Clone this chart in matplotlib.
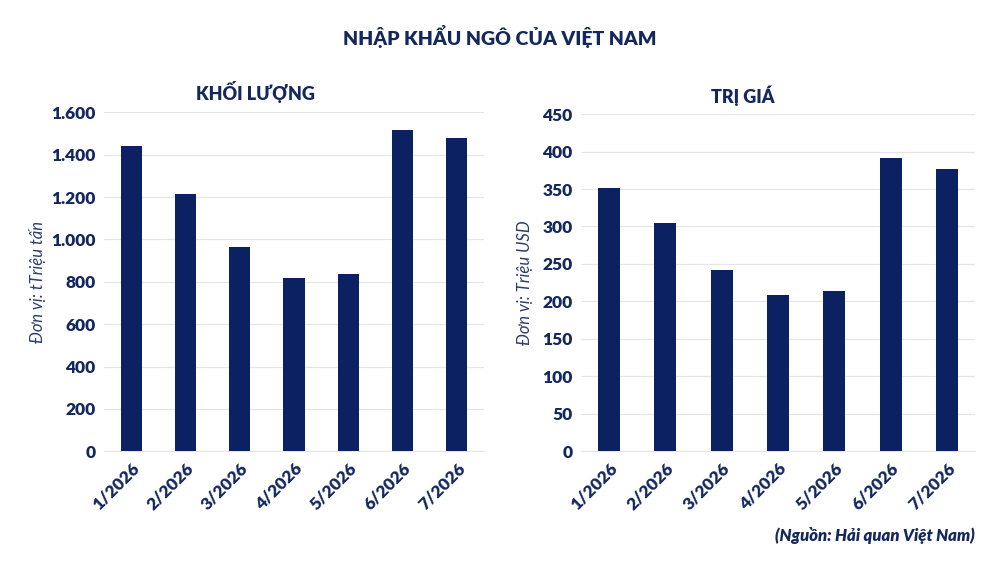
import matplotlib.pyplot as plt
from matplotlib.ticker import FuncFormatter

plt.rcParams['font.family'] = ['Lato', 'DejaVu Sans']

months = ['1/2026', '2/2026', '3/2026', '4/2026', '5/2026', '6/2026', '7/2026']
volume = [1441, 1217, 966, 816, 838, 1515, 1480]
value = [351, 304, 242, 208, 214, 392, 377]

navy = '#0b2161'
text_col = '#14285e'

fig = plt.figure(figsize=(10, 5.62), dpi=100)
fig.patch.set_facecolor('white')

ax1 = fig.add_axes([0.104, 0.197, 0.38, 0.603])
ax2 = fig.add_axes([0.581, 0.197, 0.394, 0.600])


def style(ax, data, top, step, ylabel, fmt, pad):
    x = range(len(months))
    ax.bar(x, data, width=0.39, color=navy, zorder=3)
    ax.set_ylim(0, top)
    ax.set_xlim(-0.5, len(months) - 0.5)
    ax.set_yticks(range(0, top + 1, step))
    ax.yaxis.set_major_formatter(FuncFormatter(fmt))
    ax.set_xticks(list(x))
    ax.set_xticklabels(months, rotation=45, ha='right', rotation_mode='anchor')
    ax.grid(axis='y', color='#e6e6e6', linewidth=0.9, zorder=0)
    for s in ['top', 'right', 'left']:
        ax.spines[s].set_visible(False)
    ax.spines['bottom'].set_color('#e6e6e6')
    ax.tick_params(length=0, labelsize=12.5, colors=text_col, pad=6)
    for lbl in ax.get_xticklabels() + ax.get_yticklabels():
        lbl.set_fontweight('heavy')
    ax.set_ylabel(ylabel, fontsize=12, style='italic', color='#2a3d6e', labelpad=pad)


style(ax1, volume, 1600, 200, 'Đơn vị: tTriệu tấn',
      lambda v, p: f'{int(v):,}'.replace(',', '.'), 4)
style(ax2, value, 450, 50, 'Đơn vị: Triệu USD',
      lambda v, p: f'{int(v)}', 7)

fig.text(0.5, 0.935, 'NHẬP KHẨU NGÔ CỦA VIỆT NAM', ha='center', va='center',
         fontsize=14, fontweight='heavy', color=text_col)
fig.text(0.255, 0.836, 'KHỐI LƯỢNG', ha='center', va='center',
         fontsize=13, fontweight='heavy', color=text_col)
fig.text(0.743, 0.829, 'TRỊ GIÁ', ha='center', va='center',
         fontsize=13, fontweight='heavy', color=text_col)
fig.text(0.975, 0.048, '(Nguồn: Hải quan Việt Nam)', ha='right', va='center',
         fontsize=12, fontweight='heavy', style='italic', color=text_col)

fig.savefig('out.png', dpi=100, facecolor='white')
